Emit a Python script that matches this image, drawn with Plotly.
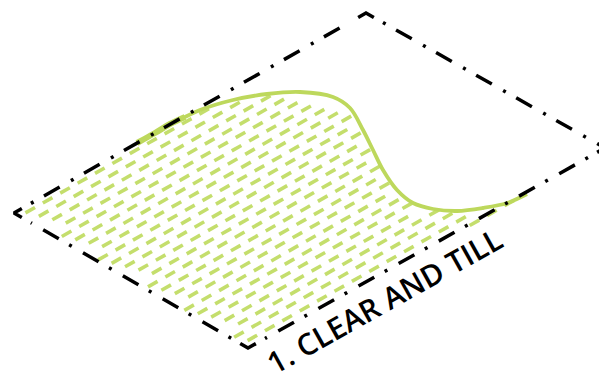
import numpy as np
import plotly.graph_objects as go

##########################
########## DATA ##########
##########################

# plot outline corners (top, right, bottom, left), image pixels
corner_x = [366, 605, 248, 14]
corner_y = [13, 148, 348, 213]

# green boundary curve of the tilled area
curve_x = [137, 155, 170, 185, 200, 233, 267, 300, 333, 350, 363, 373, 383, 397, 413, 433, 457, 483, 507, 527]
curve_y = [143, 133, 124, 117, 110, 100, 94, 92, 97, 108, 130, 150, 170, 190, 203, 209, 211, 208, 203, 194]

label = "1. CLEAR AND TILL"

GREEN = '#bdd85c'
HATCH = '#c4de6c'

##########################
######## HELPERS #########
##########################

def inside(px, py, vx, vy):
    # ray casting point in polygon
    res = np.zeros(len(px), dtype=bool)
    j = len(vx) - 1
    for i in range(len(vx)):
        cond = ((vy[i] > py) != (vy[j] > py)) & (
            px < (vx[j] - vx[i]) * (py - vy[i]) / (vy[j] - vy[i] + 1e-12) + vx[i])
        res ^= cond
        j = i
    return res

def hatch_segments(poly_x, poly_y, origin, u, n, spacing=9.6, period=20, dash=11):
    xs, ys = [], []
    for k in range(1, 32):
        base = origin + n * (k * spacing - 4)
        t0 = np.arange(-300, 800, period) + (k % 2) * period / 2
        p1 = base[None, :] + t0[:, None] * u[None, :]
        p2 = p1 + dash * u[None, :]
        pm = (p1 + p2) / 2
        ok = inside(p1[:, 0], p1[:, 1], poly_x, poly_y) & inside(p2[:, 0], p2[:, 1], poly_x, poly_y) \
            & inside(pm[:, 0], pm[:, 1], poly_x, poly_y)
        for a, b in zip(p1[ok], p2[ok]):
            xs += [a[0], b[0], None]
            ys += [a[1], b[1], None]
    return xs, ys

##########################
########## PLOT ##########
##########################

fig = go.Figure()

T = np.array([corner_x[0], corner_y[0]], float)
R = np.array([corner_x[1], corner_y[1]], float)
B = np.array([corner_x[2], corner_y[2]], float)
L = np.array([corner_x[3], corner_y[3]], float)

# hatch inside the area below the curve
u = (T - L) / np.linalg.norm(T - L)
n = np.array([-u[1], u[0]])
if n[1] < 0:
    n = -n
poly_x = np.array([L[0]] + curve_x + [B[0]], float)
poly_y = np.array([L[1]] + curve_y + [B[1]], float)
hx, hy = hatch_segments(poly_x, poly_y, L, u, n)
fig.add_trace(go.Scatter(x=hx, y=hy, mode='lines', line=dict(color=HATCH, width=3.6),
                         hoverinfo='skip', showlegend=False))

# curve
fig.add_trace(go.Scatter(x=curve_x, y=curve_y, mode='lines', line=dict(color=GREEN, width=3.8, shape='spline'),
                         hoverinfo='skip', showlegend=False))
fig.add_trace(go.Scatter(x=curve_x[:4], y=curve_y[:4], mode='lines', line=dict(color=GREEN, width=6, shape='spline'),
                         hoverinfo='skip', showlegend=False))

# dash-dot outline with chevrons at corners
pts = [T, R, B, L]
arm, gap = 9, 10.5
for i in range(4):
    P, Q = pts[i], pts[(i + 1) % 4]
    e = (Q - P) / np.linalg.norm(Q - P)
    a, b = P + e * (arm + gap), Q - e * (arm + gap)
    fig.add_trace(go.Scatter(x=[a[0], b[0]], y=[a[1], b[1]], mode='lines',
                             line=dict(color='black', width=3.5, dash='3px,12px,18px,13px'),
                             hoverinfo='skip', showlegend=False))
for i in range(4):
    C, P, Q = pts[i], pts[i - 1], pts[(i + 1) % 4]
    e1 = (P - C) / np.linalg.norm(P - C)
    e2 = (Q - C) / np.linalg.norm(Q - C)
    c1, c2 = C + e1 * arm, C + e2 * arm
    fig.add_trace(go.Scatter(x=[c1[0], C[0], c2[0]], y=[c1[1], C[1], c2[1]], mode='lines',
                             line=dict(color='black', width=3.5),
                             hoverinfo='skip', showlegend=False))

# label along the lower-right edge
ang = np.degrees(np.arctan2(R[1] - B[1], R[0] - B[0]))
fig.add_annotation(x=384, y=300, xref='x', yref='y', text=label, showarrow=False, borderpad=0,
                   textangle=ang, font=dict(family='Open Sans', size=30, color='black', weight=600))

# page body has an 8px margin, shift the ranges so pixels line up with the window
fig.update_xaxes(range=[8, 615], visible=False)
fig.update_yaxes(range=[392, 8], visible=False)
fig.update_layout(width=607, height=384, margin=dict(l=0, r=0, t=0, b=0),
                  plot_bgcolor='white', paper_bgcolor='white')

fig.write_html("out.html")
